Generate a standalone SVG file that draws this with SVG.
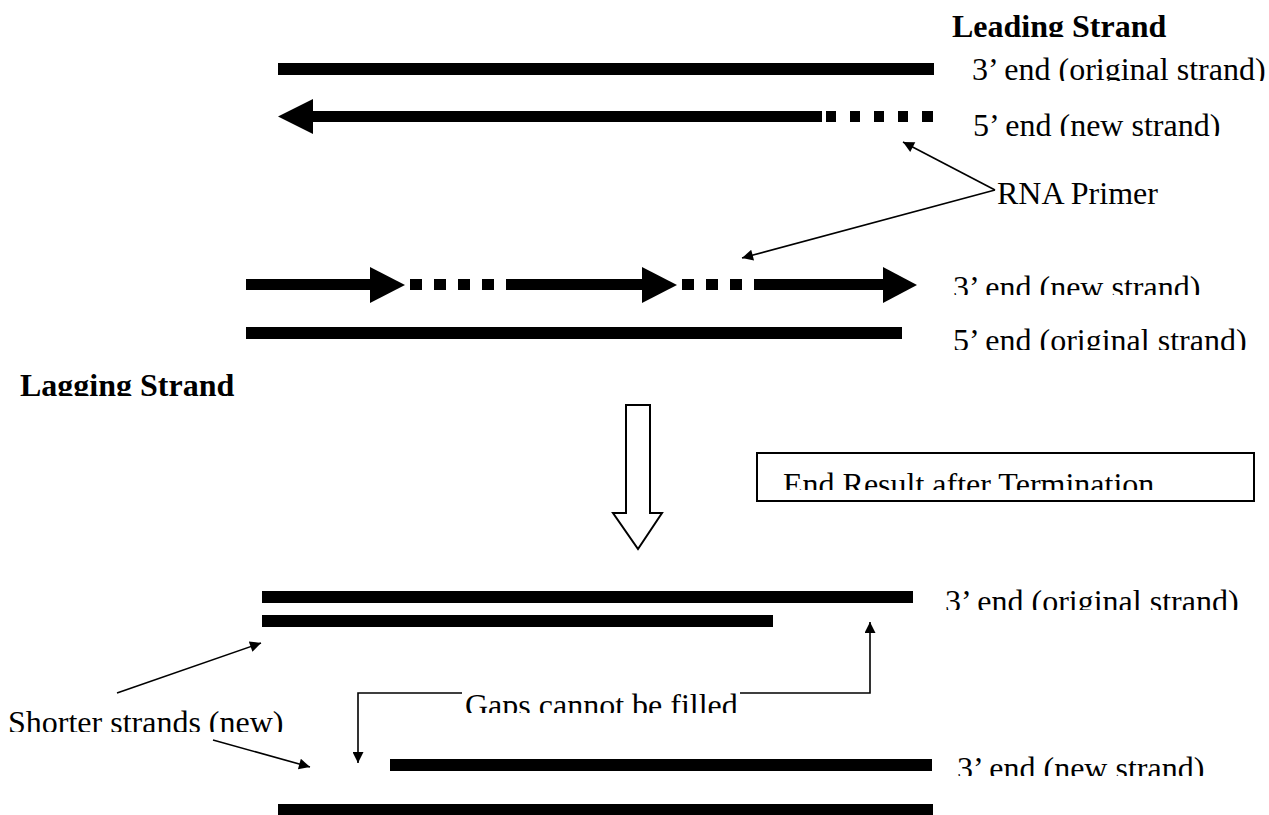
<svg xmlns="http://www.w3.org/2000/svg" width="1269" height="815" viewBox="0 0 1269 815">
<style>
.t{font-family:"Liberation Serif","Times New Roman",serif;font-size:32px;fill:#000}
.b{font-weight:bold}
.bar{fill:#000}
.thin{stroke:#000;stroke-width:1.6;fill:none}
.hollow{fill:#fff;stroke:#000;stroke-width:2}
</style>
<defs>
<marker id="ah" viewBox="0 0 10 10" refX="10" refY="5" markerWidth="16" markerHeight="11" markerUnits="userSpaceOnUse" orient="auto">
<path d="M0,0 L10,5 L0,10 z" fill="#000"/>
</marker>
<clipPath id="c1" clipPathUnits="userSpaceOnUse"><rect x="0" y="0" width="1269" height="37"/></clipPath>
<clipPath id="c2" clipPathUnits="userSpaceOnUse"><rect x="0" y="45" width="1269" height="36"/></clipPath>
<clipPath id="c3" clipPathUnits="userSpaceOnUse"><rect x="0" y="100" width="1269" height="36"/></clipPath>
<clipPath id="c4" clipPathUnits="userSpaceOnUse"><rect x="0" y="260" width="1269" height="35"/></clipPath>
<clipPath id="c5" clipPathUnits="userSpaceOnUse"><rect x="0" y="315" width="1269" height="35"/></clipPath>
<clipPath id="c6" clipPathUnits="userSpaceOnUse"><rect x="0" y="360" width="1269" height="36"/></clipPath>
<clipPath id="c7" clipPathUnits="userSpaceOnUse"><rect x="0" y="460" width="1269" height="30"/></clipPath>
<clipPath id="c8" clipPathUnits="userSpaceOnUse"><rect x="0" y="580" width="1269" height="30"/></clipPath>
<clipPath id="c9" clipPathUnits="userSpaceOnUse"><rect x="400" y="680" width="400" height="33"/></clipPath>
<clipPath id="c10" clipPathUnits="userSpaceOnUse"><rect x="0" y="700" width="400" height="32"/></clipPath>
<clipPath id="c11" clipPathUnits="userSpaceOnUse"><rect x="0" y="745" width="1269" height="31"/></clipPath>
</defs>

<g id="leading-label"><text class="t b" x="952" y="37" clip-path="url(#c1)">Leading Strand</text></g>

<g id="leading-original">
<rect class="bar" x="278" y="63" width="656" height="12"/>
<text class="t" x="972" y="80" clip-path="url(#c2)">3’ end (original strand)</text>
</g>

<g id="leading-new">
<rect class="bar" x="312" y="111" width="510" height="11"/>
<polygon class="bar" points="278,116.5 313,99 313,134"/>
<rect class="bar" x="826" y="111" width="10" height="11"/>
<rect class="bar" x="850" y="111" width="10" height="11"/>
<rect class="bar" x="874" y="111" width="10" height="11"/>
<rect class="bar" x="898" y="111" width="10" height="11"/>
<rect class="bar" x="922" y="111" width="11" height="11"/>
<text class="t" x="973" y="136" clip-path="url(#c3)">5’ end (new strand)</text>
</g>

<g id="rna-primer"><text class="t" x="997" y="204">RNA Primer</text></g>

<g id="lagging-new">
<rect class="bar" x="246" y="279" width="125" height="11"/>
<polygon class="bar" points="370,267 405,285 370,303"/>
<rect class="bar" x="410" y="279" width="12" height="11"/>
<rect class="bar" x="434" y="279" width="12" height="11"/>
<rect class="bar" x="458" y="279" width="12" height="11"/>
<rect class="bar" x="482" y="279" width="12" height="11"/>
<rect class="bar" x="506" y="279" width="137" height="11"/>
<polygon class="bar" points="642,267 677,285 642,303"/>
<rect class="bar" x="682" y="279" width="12" height="11"/>
<rect class="bar" x="706" y="279" width="12" height="11"/>
<rect class="bar" x="730" y="279" width="12" height="11"/>
<rect class="bar" x="754" y="279" width="130" height="11"/>
<polygon class="bar" points="883,267 917,285 883,303"/>
<text class="t" x="953" y="298" clip-path="url(#c4)">3’ end (new strand)</text>
</g>

<g id="lagging-original">
<rect class="bar" x="246" y="327" width="656" height="12"/>
<text class="t" x="953" y="351" clip-path="url(#c5)">5’ end (original strand)</text>
</g>

<g id="lagging-label"><text class="t b" x="20" y="396" clip-path="url(#c6)">Lagging Strand</text></g>

<g id="down-arrow">
<polygon class="hollow" points="626,405 650,405 650,513 662,513 638,549 613,513 626,513"/>
</g>

<g id="end-result">
<rect x="757" y="453" width="497" height="48" fill="#fff" stroke="#000" stroke-width="2"/>
<text class="t" x="783" y="495" clip-path="url(#c7)">End Result after Termination</text>
</g>

<g id="result-top">
<rect class="bar" x="262" y="591" width="651" height="12"/>
<rect class="bar" x="262" y="615" width="511" height="12"/>
<text class="t" x="945" y="612" clip-path="url(#c8)">3’ end (original strand)</text>
</g>

<g id="gaps-label"><text class="t" x="465" y="716" clip-path="url(#c9)">Gaps cannot be filled</text></g>

<g id="shorter-label"><text class="t" x="8" y="733" clip-path="url(#c10)">Shorter strands (new)</text></g>

<g id="result-bottom">
<rect class="bar" x="390" y="759" width="542" height="12"/>
<rect class="bar" x="278" y="804" width="655" height="11"/>
<text class="t" x="957" y="779" clip-path="url(#c11)">3’ end (new strand)</text>
</g>

<g id="connectors">
<line class="thin" x1="995" y1="190" x2="903" y2="142" marker-end="url(#ah)"/>
<line class="thin" x1="995" y1="190" x2="742" y2="258" marker-end="url(#ah)"/>
<line class="thin" x1="117" y1="693" x2="261" y2="643" marker-end="url(#ah)"/>
<line class="thin" x1="213" y1="740" x2="310" y2="767" marker-end="url(#ah)"/>
<polyline class="thin" points="462,693 358,693 358,763" marker-end="url(#ah)"/>
<polyline class="thin" points="740,693 870,693 870,622" marker-end="url(#ah)"/>
</g>
</svg>
